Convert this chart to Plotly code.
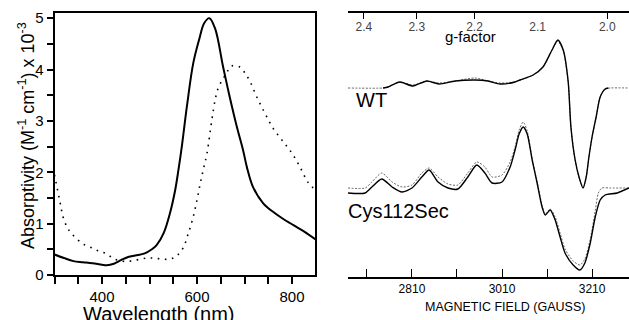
import plotly.graph_objects as go

# ---------------- UV-vis data (left panel) ----------------
WL_SOLID = [300, 320, 340, 360, 380, 400, 410, 425, 440, 455, 470, 490, 505, 515, 530, 543,
            554, 561, 568, 579, 592, 605, 615, 626, 638, 655, 669, 684, 697, 705, 718, 739,
            760, 780, 803, 825, 850]
ABS_SOLID = [0.40, 0.33, 0.27, 0.25, 0.23, 0.20, 0.19, 0.22, 0.29, 0.35, 0.38, 0.42, 0.50, 0.58,
             0.82, 1.20, 1.65, 2.05, 2.50, 3.30, 4.12, 4.60, 4.90, 5.00, 4.80, 4.05, 3.46, 2.88,
             2.43, 2.10, 1.71, 1.40, 1.23, 1.10, 0.97, 0.85, 0.69]

WL_DOTTED = [300, 312, 318, 326, 333, 347, 361, 378, 392, 410, 424, 442, 459, 476, 494, 508,
             526, 543, 557, 571, 582, 592, 600, 607, 614, 621, 631, 638, 645, 655, 665, 673,
             690, 701, 712, 726, 743, 760, 781, 800, 817, 834, 850]
ABS_DOTTED = [1.95, 1.40, 1.13, 0.94, 0.84, 0.70, 0.60, 0.53, 0.47, 0.41, 0.32, 0.27, 0.27, 0.30,
              0.33, 0.33, 0.31, 0.31, 0.37, 0.53, 0.82, 1.13, 1.46, 1.79, 2.08, 2.37, 3.00, 3.40,
              3.65, 3.82, 3.98, 4.07, 4.05, 3.93, 3.76, 3.46, 3.15, 2.86, 2.60, 2.37, 2.10, 1.80,
              1.65]

# ---------------- EPR data (right panel, arbitrary intensity incl. offset) ----------------
WT_B = [2746, 2757, 2783, 2812, 2843, 2870, 2906, 2950, 2979, 3006, 3039, 3050, 3079, 3101,
        3121, 3134, 3146, 3157, 3163, 3172, 3181, 3190, 3197, 3203, 3210, 3219, 3228, 3239, 3246]
WT_V = [189, 190, 195, 191, 196, 193, 196, 197, 196, 193, 195, 197, 202, 210,
        227, 237, 227, 195, 150, 118, 100, 89, 100, 120, 140, 160, 180, 188, 189]

WT2_B = [2668, 2746, 2757, 2783, 2812, 2843, 2870, 2906, 2950, 2979, 3006, 3039, 3050, 3079,
         3101, 3121, 3134, 3146, 3157, 3163, 3172, 3181, 3190, 3197, 3203, 3210, 3219, 3228,
         3239, 3250, 3292]
WT2_V = [189, 189, 190, 195, 192, 196, 194, 196, 199, 196, 194, 195, 197, 202,
         210, 227, 236, 226, 195, 150, 118, 100, 90, 100, 120, 140, 160, 180,
         188, 189, 189]

CYS_B = [2668, 2706, 2721, 2743, 2766, 2788, 2810, 2832, 2848, 2868, 2890, 2912, 2934, 2954,
         2972, 2988, 3010, 3028, 3039, 3048, 3057, 3066, 3077, 3088, 3099, 3106, 3117, 3128,
         3139, 3150, 3168, 3183, 3194, 3206, 3217, 3228, 3239, 3266, 3292]
CYS_V = [84, 84, 90, 98, 90, 85, 89, 100, 107, 95, 89, 88, 100, 112,
         104, 94, 95, 110, 127, 143, 150, 143, 117, 94, 70, 62, 67, 57,
         40, 24, 12, 7, 14, 34, 60, 77, 82, 84, 89]

CYS2_B = [2668, 2706, 2721, 2743, 2766, 2788, 2810, 2832, 2848, 2868, 2890, 2912, 2934, 2954,
          2972, 2988, 3010, 3028, 3039, 3048, 3057, 3066, 3077, 3088, 3099, 3106, 3117, 3128,
          3139, 3150, 3168, 3183, 3194, 3206, 3217, 3224, 3232, 3250, 3292]
CYS2_V = [89, 89, 95, 104, 95, 90, 92, 104, 109, 100, 93, 92, 104, 115,
          110, 100, 102, 115, 130, 147, 155, 146, 118, 95, 72, 63, 68, 60,
          44, 28, 16, 12, 18, 38, 66, 84, 89, 89, 89]

G_TICKS = [2.4, 2.3, 2.2, 2.1, 2.0]
G_TICK_MARKS = [2.4, 2.3, 2.2, 2.0]
MW_FREQ_GHZ = 9.08
FIELD_TICKS = [2810, 3010, 3210]


def g_to_field(g):
    return 714.477 * MW_FREQ_GHZ / g


W, H = 629, 320
FONT = "Liberation Sans, Arial, sans-serif"


def px(x):
    return x / W


def py(y):
    return (H - y) / H


fig = go.Figure()

# left panel
fig.add_trace(go.Scatter(x=WL_DOTTED, y=ABS_DOTTED, mode="lines", line_shape="spline",
                         line=dict(color="black", width=1.6, dash="1.6px,5.5px"),
                         xaxis="x", yaxis="y", hoverinfo="skip"))
fig.add_trace(go.Scatter(x=WL_SOLID, y=ABS_SOLID, mode="lines", line_shape="spline",
                         line=dict(color="black", width=2),
                         xaxis="x", yaxis="y", hoverinfo="skip"))

# right panel
for bx, vy in [(WT2_B, WT2_V), (CYS2_B, CYS2_V)]:
    fig.add_trace(go.Scatter(x=bx, y=vy, mode="lines", line_shape="spline",
                             line=dict(color="#666", width=1, dash="2px,1.5px", smoothing=0.7),
                             xaxis="x2", yaxis="y2", hoverinfo="skip"))
for bx, vy in [(WT_B, WT_V), (CYS_B, CYS_V)]:
    fig.add_trace(go.Scatter(x=bx, y=vy, mode="lines", line_shape="spline",
                             line=dict(color="black", width=1.4, smoothing=0.7),
                             xaxis="x2", yaxis="y2", hoverinfo="skip"))

# dummy traces to activate top axes
fig.add_trace(go.Scatter(x=[g_to_field(2.2)], y=[None], xaxis="x3", yaxis="y2",
                         mode="lines", hoverinfo="skip"))
fig.add_trace(go.Scatter(x=[g_to_field(2.2)], y=[None], xaxis="x4", yaxis="y2",
                         mode="lines", hoverinfo="skip"))

field_range = [2668, 3292]

fig.update_layout(
    template="none",
    width=W, height=H, autosize=False,
    margin=dict(l=0, r=0, t=0, b=0, pad=0),
    paper_bgcolor="white", plot_bgcolor="white",
    showlegend=False,
    font=dict(family=FONT, color="black"),
    xaxis=dict(domain=[px(54.5), px(315)], range=[300, 848.4], anchor="y", automargin=False,
               showline=True, linecolor="black", linewidth=2, mirror=True,
               ticks="outside", ticklen=7, tickwidth=1.5, tickcolor="black",
               tick0=0, dtick=200,
               minor=dict(dtick=50, ticks="outside", ticklen=7, tickwidth=1.5, tickcolor="black",
                          showgrid=False),
               tickfont=dict(size=15), showgrid=False, zeroline=False),
    yaxis=dict(domain=[py(275), py(13)], range=[0, 5.10], anchor="x", automargin=False,
               showline=True, linecolor="black", linewidth=2, mirror=True,
               ticks="outside", ticklen=6, tickwidth=1.5, tickcolor="black",
               tick0=0, dtick=1,
               minor=dict(dtick=0.5, ticks="outside", ticklen=6, tickwidth=1.5, tickcolor="black",
                          showgrid=False),
               tickfont=dict(size=15), showgrid=False, zeroline=False),
    xaxis2=dict(domain=[px(348), 1.0], range=field_range, anchor="y2", automargin=False,
                showline=True, linecolor="black", linewidth=1.5,
                ticks="inside", ticklen=8, tickwidth=1.2, tickcolor="black",
                tickmode="array", tickvals=FIELD_TICKS,
                minor=dict(dtick=100, tick0=2710, ticks="inside", ticklen=8, tickwidth=1.2,
                           tickcolor="black", showgrid=False),
                tickfont=dict(size=12), showgrid=False, zeroline=False),
    yaxis2=dict(domain=[py(277), py(13)], range=[0, 264], anchor="x2", visible=False,
                automargin=False),
    xaxis3=dict(overlaying="x2", side="top", anchor="y2", range=field_range, automargin=False,
                showline=True, linecolor="black", linewidth=1.5,
                ticks="inside", ticklen=6, tickwidth=1.2, tickcolor="black",
                tickmode="array", tickvals=[g_to_field(g) for g in G_TICK_MARKS],
                showticklabels=False, showgrid=False, zeroline=False),
    xaxis4=dict(overlaying="x2", side="top", anchor="y2", range=field_range, automargin=False,
                showline=False, ticks="inside", ticklen=9, tickcolor="rgba(0,0,0,0)",
                tickmode="array", tickvals=[g_to_field(g) for g in G_TICKS],
                ticktext=[f"{g:.1f}" for g in G_TICKS],
                ticklabelposition="inside", tickfont=dict(size=12),
                showgrid=False, zeroline=False),
)

ann = [
    dict(text="Wavelength (nm)", x=px(159), y=py(314), font=dict(size=20),
         xanchor="center", yanchor="middle"),
    dict(text="Absorptivity (M<sup>-1</sup> cm<sup>-1</sup>) x 10<sup>-3</sup>",
         x=px(26), y=py(136), textangle=-90, font=dict(size=18),
         xanchor="center", yanchor="middle"),
    dict(text="g-factor", x=px(470), y=py(37), font=dict(size=15),
         xanchor="center", yanchor="middle"),
    dict(text="MAGNETIC FIELD (GAUSS)", x=px(505), y=py(307), font=dict(size=12.5),
         xanchor="center", yanchor="middle"),
    dict(text="WT", x=px(354), y=py(100), font=dict(size=20),
         xanchor="left", yanchor="middle"),
    dict(text="Cys112Sec", x=px(346), y=py(211), font=dict(size=20),
         xanchor="left", yanchor="middle"),
]
for a in ann:
    a.update(xref="paper", yref="paper", showarrow=False)
fig.update_layout(annotations=ann)

fig.write_html("out.html", config={"displayModeBar": False},
               post_script="document.body.style.margin='0';document.body.style.overflow='hidden';")
